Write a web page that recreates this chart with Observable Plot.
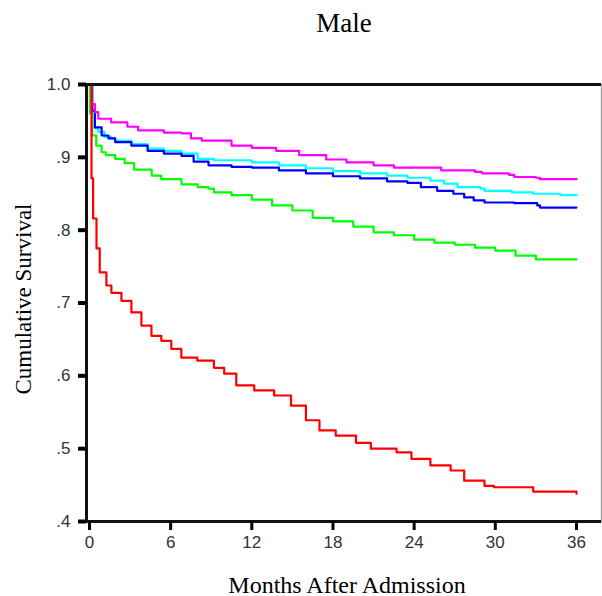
<!DOCTYPE html>
<html><head><meta charset="utf-8">
<script src="https://cdn.jsdelivr.net/npm/d3@7"></script>
<script src="https://cdn.jsdelivr.net/npm/@observablehq/plot@0.6"></script>
<style>
body{margin:0;background:#fff;width:602px;height:596px;overflow:hidden}
#title{height:56px;box-sizing:border-box;padding-top:10px;padding-left:86px;width:602px;text-align:center;font:27px/27px "Liberation Serif","Times New Roman",serif;color:#000}
</style></head><body>
<div id="title">Male</div>
<div id="chart"></div>
<script>
// Kaplan-Meier step data (months after admission, cumulative survival)
const cyanT = [0,0.2,0.4,0.65,1.1,1.6,1.9,3.1,4.3,5.5,6.8,8,9.2,12,14,16,18,20,22,23.5,25.2,26.2,27.2,28.9,29.2,31.2,32.8,34.8,36];
const cyanV = [1.0,0.962,0.940,0.935,0.928,0.926,0.923,0.918,0.912,0.909,0.905,0.898,0.896,0.893,0.889,0.885,0.881,0.878,0.875,0.872,0.868,0.864,0.859,0.857,0.854,0.852,0.850,0.848,0.848];

const blueT = [0,0.2,0.4,0.9,1.4,1.9,3.1,4.3,5.5,6.8,7.7,8.8,10.5,12,14,16,18,20,22,23.5,24.5,25.7,26.9,27.7,28.4,29.2,31.4,33.1,33.3,36];
const blueV = [1.0,0.964,0.941,0.930,0.926,0.921,0.916,0.909,0.905,0.902,0.894,0.889,0.887,0.886,0.882,0.878,0.874,0.871,0.867,0.865,0.859,0.854,0.850,0.845,0.841,0.838,0.837,0.834,0.831,0.831];

const magentaT = [0,0.15,0.4,0.65,1.6,2.8,3.6,5.5,6.8,7.5,8.3,10.5,12,13.8,15.5,17.5,19,21,22.5,26,28.5,29,31,31.4,33,33.3,36];
const magentaV = [1.0,0.973,0.962,0.953,0.948,0.942,0.937,0.934,0.933,0.926,0.923,0.916,0.913,0.909,0.903,0.897,0.893,0.889,0.886,0.882,0.880,0.878,0.876,0.873,0.872,0.870,0.870];

const greenT = [0,0.05,0.2,0.5,0.9,1.2,1.9,2.6,3.3,4.6,5.3,6.8,8.0,8.8,9.2,10.5,12,13.5,15,16.5,18,19.5,21,22.5,24,25.5,27,28.5,30,31.5,33,36];
const greenV = [1.0,0.96,0.93,0.916,0.907,0.903,0.898,0.892,0.883,0.875,0.870,0.863,0.859,0.857,0.852,0.848,0.842,0.834,0.827,0.817,0.812,0.805,0.797,0.793,0.787,0.783,0.780,0.776,0.772,0.765,0.760,0.760];

const redT = [0,0.15,0.27,0.52,0.76,1.25,1.62,2.36,3.1,3.84,4.58,5.31,6.05,6.79,7.97,9.2,9.96,10.85,12.18,13.65,14.9,16.0,17.0,18.2,19.7,20.8,22.7,23.8,25.2,26.7,27.7,29.2,29.9,32.8,36];
const redV = [1.0,0.871,0.816,0.775,0.742,0.724,0.714,0.703,0.687,0.669,0.655,0.648,0.637,0.625,0.621,0.611,0.603,0.587,0.580,0.573,0.559,0.539,0.525,0.518,0.508,0.500,0.495,0.486,0.477,0.470,0.456,0.449,0.447,0.441,0.438];

// group keys (not colour names, so the colour scale is applied)
const seriesNames = ["S1","S2","S3","S4","S5"];
const seriesColors = ["#00ffff","#0000ff","#ff00ff","#00ff00","#ff0000"];
const seriesData = {S1:[cyanT,cyanV], S2:[blueT,blueV], S3:[magentaT,magentaV], S4:[greenT,greenV], S5:[redT,redV]};

const xTicks = [0,6,12,18,24,30,36];
const yTicks = [0.4,0.5,0.6,0.7,0.8,0.9,1.0];
const yTickLabels = [".4",".5",".6",".7",".8",".9","1.0"];
const xDomain = [-0.22, 37.85];
const yDomain = [0.4, 1.0];

const rows = [];
for (const s of seriesNames) {
  const [T, V] = seriesData[s];
  T.forEach((t, i) => rows.push({series: s, t, v: V[i]}));
}

const serif = '"Liberation Serif","Times New Roman",serif';
const chart = Plot.plot({
  width: 602, height: 540,
  marginTop: 28, marginBottom: 75, marginLeft: 86, marginRight: 1,
  style: {fontFamily: '"Liberation Sans",Arial,sans-serif', fontSize: "17px", background: "#fff", overflow: "visible"},
  x: {domain: xDomain, axis: null},
  y: {domain: yDomain, axis: null},
  color: {domain: seriesNames, range: seriesColors},
  marks: [
    Plot.frame({stroke: "#a0a0a0", strokeWidth: 1.5}),
    Plot.line(rows, {x: "t", y: "v", z: "series", stroke: "series", curve: "step-after", strokeWidth: 2.2}),
    Plot.ruleY([yDomain[1]], {stroke: "#111", strokeWidth: 3}),
    Plot.ruleY([yDomain[0]], {stroke: "#111", strokeWidth: 3}),
    Plot.ruleX([xDomain[0]], {stroke: "#111", strokeWidth: 3}),
    Plot.axisY(yTicks, {tickSize: 8, tickPadding: 8, strokeWidth: 4, stroke: "#000", fill: "#333", fontSize: 17,
      tickFormat: d => yTickLabels[yTicks.indexOf(d)], label: null}),
    Plot.axisX(xTicks, {tickSize: 9, tickPadding: 5, strokeWidth: 3, stroke: "#000", fill: "#333", fontSize: 17, label: null}),
    Plot.text(["Months After Admission"], {text: d => d, frameAnchor: "bottom", lineAnchor: "bottom", textAnchor: "middle", dx: 3, dy: 71,
      fontFamily: serif, fontSize: 24, fill: "#000"}),
    Plot.text(["Cumulative Survival"], {text: d => d, frameAnchor: "left", lineAnchor: "bottom", textAnchor: "middle", rotate: -90, dx: -56, dy: -4,
      fontFamily: serif, fontSize: 23, fill: "#000"})
  ]
});
document.getElementById("chart").appendChild(chart);
</script></body></html>
